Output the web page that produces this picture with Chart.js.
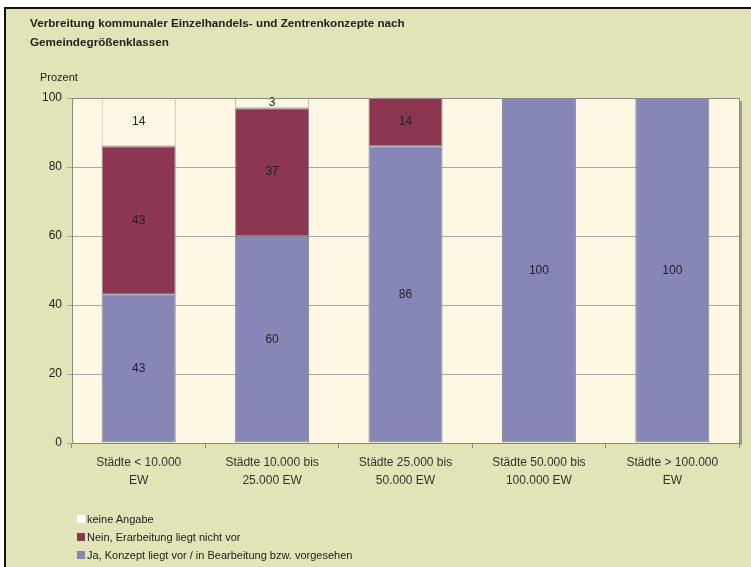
<!DOCTYPE html>
<html><head><meta charset="utf-8">
<script src="https://cdn.jsdelivr.net/npm/chart.js@4/dist/chart.umd.min.js"></script>
<style>
html,body{margin:0;padding:0;background:#fff;width:751px;height:567px;overflow:hidden;font-family:"Liberation Sans",Arial,sans-serif;}
#frame{position:absolute;left:4px;top:7px;width:760px;height:570px;background:#e2e3b6;border-left:2px solid #111;border-top:2px solid #111;}
#wrap{position:absolute;left:0;top:0;width:751px;height:567px;}
#title{position:absolute;left:30px;top:13px;font-weight:bold;font-size:11.7px;line-height:19px;color:#222;}
#ylab{position:absolute;left:40px;top:71px;font-size:11px;color:#222;}
#legend{position:absolute;left:77px;top:511px;font-size:11px;color:#222;}
#legend div{height:18px;line-height:16px;}
#legend span.sw{display:inline-block;width:8px;height:8px;margin-right:2px;vertical-align:-0px;}
</style></head>
<body>
<div id="frame"></div>
<div id="wrap"><canvas id="c" width="751" height="567"></canvas></div>
<div id="title">Verbreitung kommunaler Einzelhandels- und Zentrenkonzepte nach<br>Gemeindegrößenklassen</div>
<div id="ylab">Prozent</div>
<div id="legend"></div>
<script>
const categories = [["Städte < 10.000","EW"],["Städte 10.000 bis","25.000 EW"],["Städte 25.000 bis","50.000 EW"],["Städte 50.000 bis","100.000 EW"],["Städte > 100.000","EW"]];
const jaValues = [43, 60, 86, 100, 100];
const neinValues = [43, 37, 14, 0, 0];
const keineValues = [14, 3, 0, 0, 0];
const yTicks = [0, 20, 40, 60, 80, 100];
const seriesNames = ["Ja, Konzept liegt vor / in Bearbeitung bzw. vorgesehen","Nein, Erarbeitung liegt nicht vor","keine Angabe"];
const seriesColors = ["#8787b7","#8d3651","#fdf7e4"];

const datasets = [jaValues, neinValues, keineValues].map((d,i)=>({
  label: seriesNames[i], data: d, backgroundColor: seriesColors[i],
  borderColor: i===2 ? "#b4b4a8" : "#84848c", borderWidth: 1,
  barPercentage: 0.555, categoryPercentage: 1.0, borderSkipped: false
}));

const areaPlugin = {
  id:'area',
  beforeDraw(chart){
    const {ctx, chartArea:a} = chart;
    ctx.save();
    ctx.fillStyle = "#fdf7e4";
    ctx.fillRect(a.left, a.top, a.right-a.left, a.bottom-a.top);
    ctx.restore();
  },
  afterDraw(chart){
    const {ctx, chartArea:a} = chart;
    ctx.save();
    ctx.strokeStyle = "#8a8a80"; ctx.lineWidth = 1;
    ctx.strokeRect(a.left+0.5, a.top+0.5, a.right-a.left, a.bottom-a.top);
    ctx.strokeStyle = "rgba(90,90,80,0.5)"; ctx.lineWidth = 2;
    ctx.beginPath(); ctx.moveTo(a.right+2, a.top+3); ctx.lineTo(a.right+2, a.bottom+2); ctx.stroke();
    ctx.restore();
  }
};
const labelPlugin = {
  id:'vals',
  afterDatasetsDraw(chart){
    const ctx = chart.ctx;
    ctx.save();
    ctx.font = "12px 'Liberation Sans', Arial, sans-serif";
    ctx.fillStyle = "#222"; ctx.textAlign = "center"; ctx.textBaseline = "middle";
    chart.data.datasets.forEach((ds, di)=>{
      chart.getDatasetMeta(di).data.forEach((el, i)=>{
        const v = ds.data[i];
        if (!v) return;
        const top = Math.min(el.y, el.base), bot = Math.max(el.y, el.base);
        ctx.fillText(String(v), el.x, (top+bot)/2);
      });
    });
    ctx.restore();
  }
};

new Chart(document.getElementById('c'), {
  type:'bar',
  data:{ labels: categories, datasets },
  options:{
    responsive:false, animation:false, devicePixelRatio:1,
    layout:{ padding:{ left:0, top:98, right:12, bottom:0 } },
    plugins:{ legend:{display:false}, tooltip:{enabled:false}, title:{display:false} },
    scales:{
      x:{ stacked:true,
        grid:{ drawOnChartArea:false, drawTicks:true, tickLength:5, color:"#8a8a80", offset:true },
        border:{ display:false },
        ticks:{ font:{ size:12, family:"'Liberation Sans', Arial, sans-serif", lineHeight:1.5 }, color:"#333", padding:6, maxRotation:0, autoSkip:false },
        afterFit(s){ s.height = 567-443; }
      },
      y:{ stacked:true, min:0, max:100,
        afterBuildTicks(s){ s.ticks = yTicks.map(v=>({value:v})); },
        grid:{ color:"#a8a89c", tickLength:5, drawTicks:true },
        border:{ display:false },
        ticks:{ font:{ size:12, family:"'Liberation Sans', Arial, sans-serif" }, color:"#222", padding:5 },
        afterFit(s){ s.width = 72; }
      }
    }
  },
  plugins:[areaPlugin, labelPlugin]
});

const lg = document.getElementById('legend');
[2,1,0].forEach(i=>{
  const d = document.createElement('div');
  d.innerHTML = '<span class="sw" style="background:'+(i===2?'#fff':seriesColors[i])+';"></span>'+seriesNames[i];
  lg.appendChild(d);
});
</script>
</body></html>
